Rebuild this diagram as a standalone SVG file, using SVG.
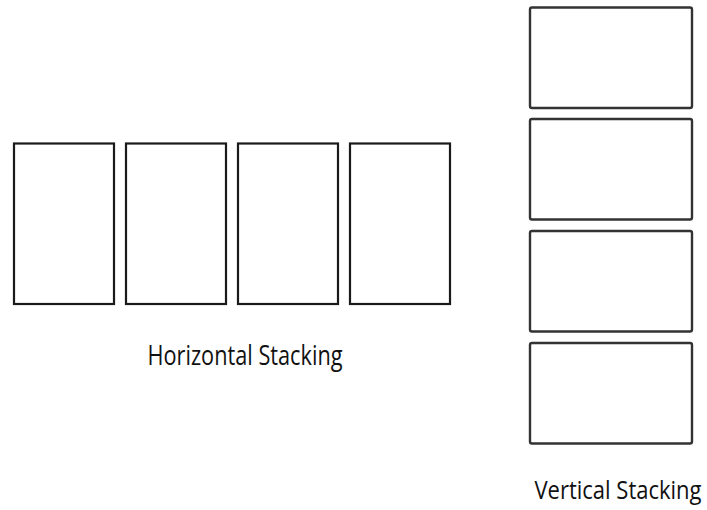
<svg xmlns="http://www.w3.org/2000/svg" width="707" height="510" viewBox="0 0 707 510">
  <style>
    .box { fill: #ffffff; stroke: #1a1a1a; stroke-width: 2.2; }
    .vbox { fill: #ffffff; stroke: #333333; stroke-width: 2.4; }
    .label { font-family: "Open Sans", "Noto Sans", "Liberation Sans", sans-serif; font-size: 27px; fill: #111111; }
    .vlabel { font-size: 26px; }
  </style>
  <rect width="707" height="510" fill="#ffffff"/>

  <!-- row of panels -->
  <g id="h1"><rect class="box" x="14" y="143.5" width="100" height="160.5"/></g>
  <g id="h2"><rect class="box" x="126" y="143.5" width="100" height="160.5"/></g>
  <g id="h3"><rect class="box" x="238" y="143.5" width="100" height="160.5"/></g>
  <g id="h4"><rect class="box" x="350" y="143.5" width="100" height="160.5"/></g>
  <g id="h-label">
    <!-- condensed label: horizontal squeeze of 0.8 -->
    <text class="label" transform="translate(147.5 365) scale(0.8 1)" x="0" y="0" textLength="243.75" lengthAdjust="spacingAndGlyphs">Horizontal Stacking</text>
  </g>

  <!-- column of panels -->
  <g id="v1"><rect class="vbox" x="530" y="7.5" width="162" height="100.5" rx="2"/></g>
  <g id="v2"><rect class="vbox" x="530" y="119" width="162" height="100.5" rx="2"/></g>
  <g id="v3"><rect class="vbox" x="530" y="231" width="162" height="100.5" rx="2"/></g>
  <g id="v4"><rect class="vbox" x="530" y="343" width="162" height="100.5" rx="2"/></g>
  <g id="v-label">
    <!-- condensed label: horizontal squeeze of 0.85 -->
    <text class="label vlabel" transform="translate(534.5 498.5) scale(0.85 1)" x="0" y="0" textLength="196.5" lengthAdjust="spacingAndGlyphs">Vertical Stacking</text>
  </g>

  <!-- connectors: none -->
  <g id="connectors"></g>
</svg>
